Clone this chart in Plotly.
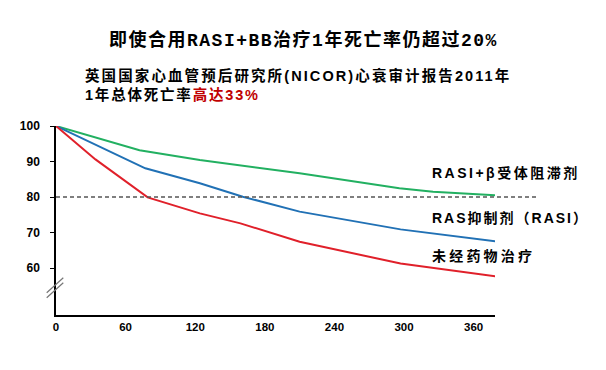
import plotly.graph_objects as go

# ---- data ----
days_green = [0, 72, 124, 210, 296, 325, 383]
surv_green = [100, 93.2, 90.4, 86.7, 82.5, 81.5, 80.4]

days_blue = [0, 77, 124, 161, 210, 297, 383]
surv_blue = [100, 88.1, 83.9, 80.1, 75.9, 70.9, 67.4]

days_red = [0, 34, 79, 124, 159, 210, 297, 383]
surv_red = [100, 90.6, 79.9, 75.4, 72.6, 67.4, 61.3, 57.5]

series_names = ["RASI+β受体阻滞剂", "RAS抑制剂（RASI）", "未经药物治疗"]
x_ticks = [0, 60, 120, 180, 240, 300, 360]
y_ticks = [60, 70, 80, 90, 100]
threshold = 80

title_text = "即使合用RASI+BB治疗1年死亡率仍超过20%"
sub1 = "英国国家心血管预后研究所(NICOR)心衰审计报告2011年"
sub2a = "1年总体死亡率"
sub2b = "高达33%"

# ---- layout constants ----
W, H = 606, 370
L, R, T, B = 56, 111, 126, 55
PW, PH = W - L - R, H - T - B


def px(x):
    return (x - L) / PW


def py(y):
    return (H - B - y) / PH


SANS = "Liberation Sans, Arial, Noto Sans CJK SC"
GREEN = "#22b061"
BLUE = "#2171b5"
RED = "#e0202a"

fig = go.Figure()
for xs, ys, c, n in [(days_green, surv_green, GREEN, series_names[0]),
                     (days_blue, surv_blue, BLUE, series_names[1]),
                     (days_red, surv_red, RED, series_names[2])]:
    fig.add_trace(go.Scatter(x=xs, y=ys, mode="lines", name=n, hoverinfo="skip",
                             line=dict(color=c, width=2), cliponaxis=False))

fig.update_layout(
    width=W, height=H,
    margin=dict(l=L, r=R, t=T, b=B),
    plot_bgcolor="white", paper_bgcolor="white",
    showlegend=False,
    xaxis=dict(range=[0, 378.4], tickvals=x_ticks, showline=True,
               linecolor="black", linewidth=1.5, ticks="", showgrid=False,
               zeroline=False,
               tickfont=dict(family=SANS, size=11.5, color="black", weight="bold")),
    yaxis=dict(range=[46.8, 100], tickvals=y_ticks, showline=True,
               linecolor="black", linewidth=1.5, ticks="outside", ticklen=4,
               tickcolor="black", tickwidth=1, showgrid=False, zeroline=False,
               ticklabelstandoff=8,
               tickfont=dict(family=SANS, size=12, color="black", weight="bold")),
)

# threshold dashed line
fig.add_shape(type="line", xref="paper", yref="y", x0=0, x1=px(537),
              y0=threshold, y1=threshold,
              line=dict(color="#555555", width=1.5, dash="4px,3px"))

# axis break marks
for dy in (0, 5):
    fig.add_shape(type="line", xref="paper", yref="paper",
                  x0=px(46.7), y0=py(292.7 + dy), x1=px(63.3), y1=py(277.7 + dy),
                  line=dict(color="#777777", width=1.2))

ann = []
ann.append(dict(text="<b><span style='letter-spacing:1.5px'>" + title_text + "</span></b>",
                x=px(303), y=py(40), xanchor="center", yanchor="middle",
                font=dict(family="Liberation Mono, Noto Sans CJK SC", size=18, color="black")))
ann.append(dict(text="<b><span style='letter-spacing:2.1px'>" + sub1 + "</span></b>",
                x=px(83), y=py(75), xanchor="left", yanchor="middle",
                font=dict(family=SANS, size=14.5, color="black")))
ann.append(dict(text="<b><span style='letter-spacing:1.8px'>" + sub2a +
                "<span style='color:#c00000'>" + sub2b + "</span></span></b>",
                x=px(83), y=py(94), xanchor="left", yanchor="middle",
                font=dict(family=SANS, size=14.5, color="black")))
for name, yy, sp in zip(series_names, [173, 218, 256], [2.5, 2, 3.2]):
    ann.append(dict(text="<b><span style='letter-spacing:%spx'>" % sp + name + "</span></b>",
                    x=px(430), y=py(yy), xanchor="left", yanchor="middle",
                    font=dict(family=SANS, size=14, color="black")))
for a in ann:
    a.update(xref="paper", yref="paper", showarrow=False)
fig.update_layout(annotations=ann)

fig.write_html("out.html", config={"displayModeBar": False},
               post_script="document.body.style.margin='0';document.body.style.overflow='hidden';")
